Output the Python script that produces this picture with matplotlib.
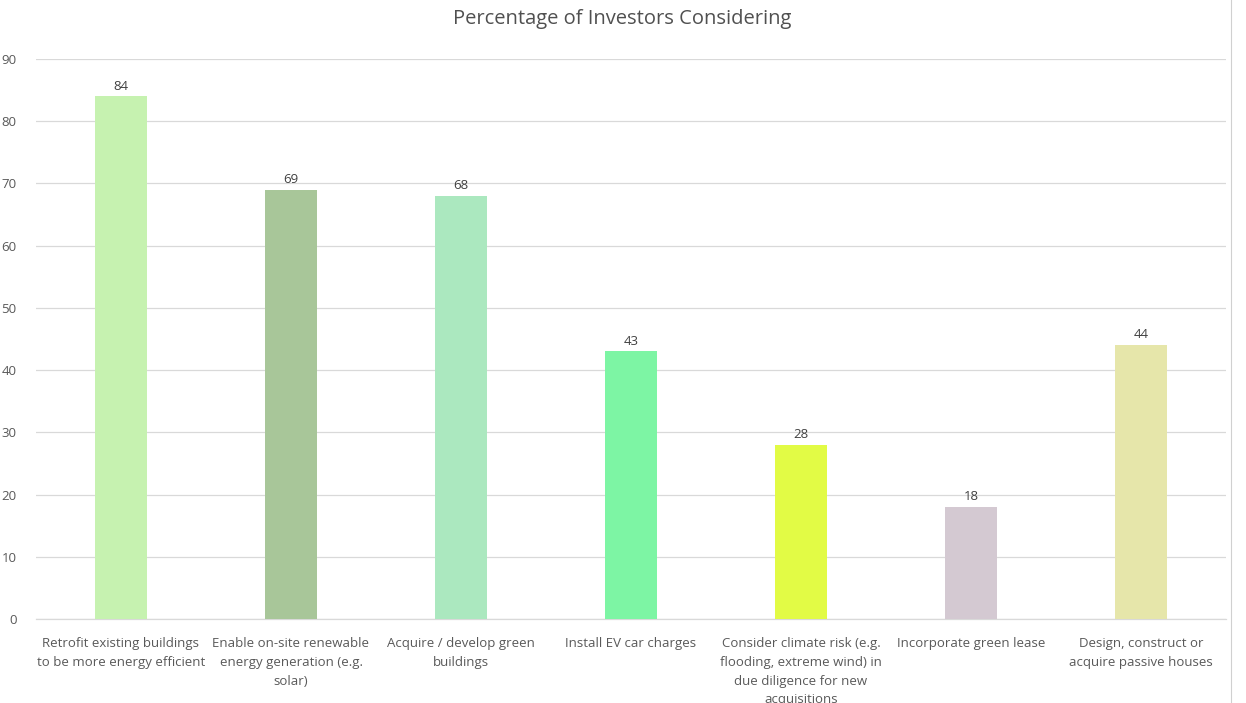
import matplotlib
matplotlib.use("Agg")
import matplotlib.pyplot as plt
from matplotlib.lines import Line2D

categories = [
    "Retrofit existing buildings\nto be more energy efficient",
    "Enable on-site renewable\nenergy generation (e.g.\nsolar)",
    "Acquire / develop green\nbuildings",
    "Install EV car charges",
    "Consider climate risk (e.g.\nflooding, extreme wind) in\ndue diligence for new\nacquisitions",
    "Incorporate green lease",
    "Design, construct or\nacquire passive houses",
]
values = [84, 69, 68, 43, 28, 18, 44]
colors = ["#C6F2B0", "#A8C699", "#ABE8BF", "#7DF5A4", "#E2FB45", "#D4C9D2", "#E6E6AA"]
yticks = [0, 10, 20, 30, 40, 50, 60, 70, 80, 90]

plt.rcParams['font.family'] = ['Open Sans', 'DejaVu Sans']
txt = "#595959"

fig = plt.figure(figsize=(12.46, 7.03), dpi=100)
ax = fig.add_axes([36/1246, 1-619/703, 1190/1246, 560/703])
x = list(range(len(categories)))
bars = ax.bar(x, values, width=0.31, color=colors, zorder=3)
for xi, v in zip(x, values):
    ax.text(xi, v + 0.6, str(v), ha='center', va='bottom', fontsize=9.5, color="#404040")
ax.set_xlim(-0.5, len(categories) - 0.5)
ax.set_ylim(0, 90)
ax.set_yticks(yticks)
ax.set_yticklabels([str(t) for t in yticks], fontsize=9.5, color=txt)
ax.set_xticks(x)
ax.set_xticklabels(categories, fontsize=9.5, color=txt, linespacing=1.58, va='top')
ax.tick_params(axis='both', length=0)
ax.tick_params(axis='y', pad=14)
ax.tick_params(axis='x', pad=13)
ax.grid(axis='y', color="#D9D9D9", linewidth=0.9, zorder=0)
for s in ['top', 'right', 'left']:
    ax.spines[s].set_visible(False)
ax.spines['bottom'].set_color("#D9D9D9")
ax.spines['bottom'].set_linewidth(0.9)
fig.text(622/1246, 1-19/703, "Percentage of Investors Considering", ha='center', va='center',
         fontsize=14.5, color="#505050")
fig.add_artist(Line2D([1231/1246, 1231/1246], [0, 1], color="#D0D0D0", linewidth=0.8))
fig.savefig("out.png", dpi=100)
